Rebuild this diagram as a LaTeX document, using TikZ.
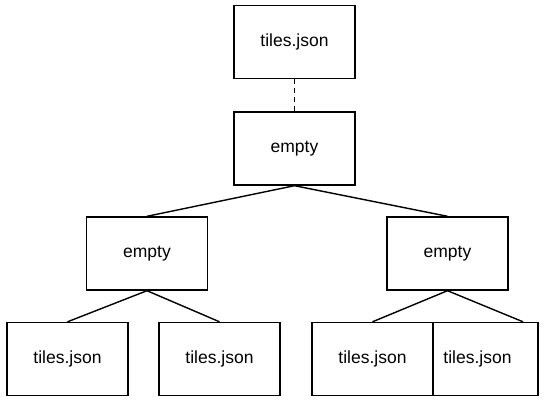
\documentclass[tikz,border=0pt]{standalone}
\usepackage{fontspec}
\setmainfont{Liberation Sans}
\usetikzlibrary{positioning}

\begin{document}
\begin{tikzpicture}[
  x=1pt, y=1pt,
  box/.style={draw=black,line width=1.4pt,fill=white,align=center,
              minimum width=121pt,minimum height=73pt,inner sep=0pt,
              font=\fontsize{17.5}{21}\selectfont},
  link/.style={line width=1.4pt,draw=black}]
\useasboundingbox (0,0) rectangle (548,-401);
\node[box] (root) at (294.5,-42) {tiles.json};
\node[box] (top) at (294.5,-148.5) {empty};
\node[box] (left) at (147,-253.5) {empty};
\node[box] (right) at (447.5,-253.5) {empty};
\node[box] (leafA) at (67.5,-359) {tiles.json};
\node[box] (leafB) at (219.5,-359) {tiles.json};
\node[box] (leafD) at (477.5,-359) {tiles.json};
\node[box] (leafC) at (372.5,-359) {tiles.json};
\draw[link,dash pattern=on 5pt off 4pt] (root) -- (top);
\draw[link] (top.south) -- (left.north);
\draw[link] (top.south) -- (right.north);
\draw[link] (left.south) -- (leafA.north);
\draw[link] (left.south) -- (leafB.north);
\draw[link] (right.south) -- (leafC.north);
\draw[link] (right.south) -- ([xshift=45.5pt]leafD.north);
\end{tikzpicture}
\end{document}
